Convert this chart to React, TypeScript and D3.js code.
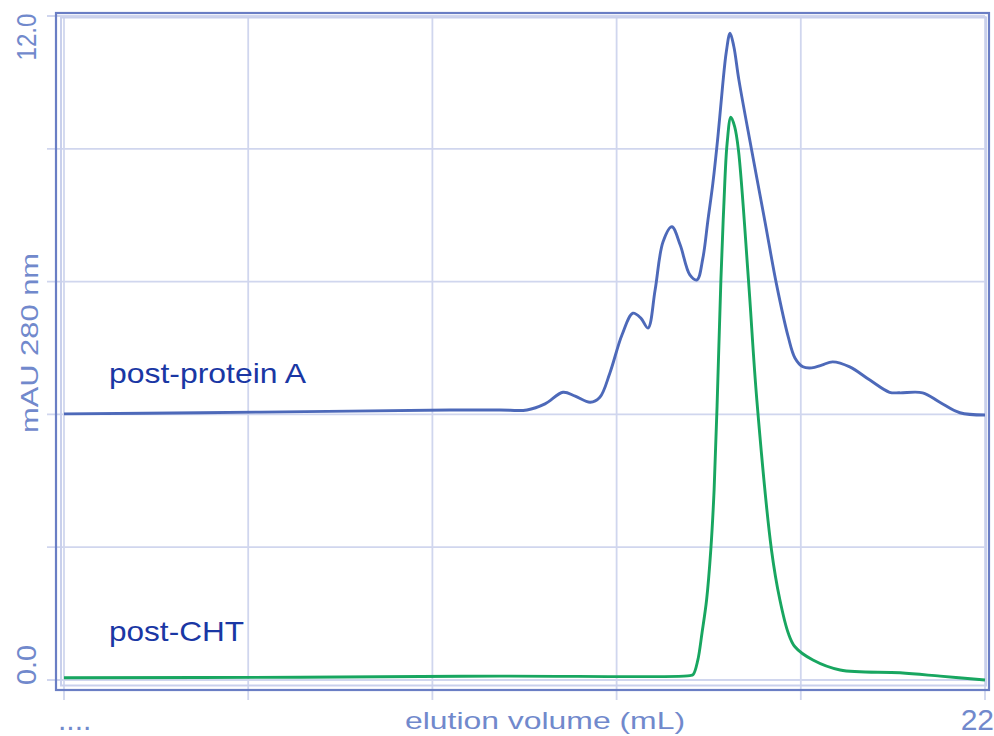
import * as d3 from "d3";

// elution volume (mL) vs absorbance (mAU 280 nm)
const proteinA_x = [
  0, 3.25, 6.83, 9.22, 10.41, 11.06, 11.49, 11.92, 12.21, 12.57, 12.8, 13.04,
  13.33, 13.59, 13.78, 13.95, 14.12, 14.31, 14.52, 14.72, 14.95, 15.12, 15.26,
  15.38, 15.5, 15.62, 15.73, 15.82, 15.91, 16.0, 16.12, 16.42, 16.74, 17.02,
  17.3, 17.46, 17.65, 17.86, 18.1, 18.36, 18.77, 19.25, 19.72, 19.96, 20.51,
  20.92, 21.4, 22,
];
const proteinA_y = [
  4.81, 4.83, 4.86, 4.88, 4.88, 4.88, 4.99, 5.2, 5.13, 5.02, 5.11, 5.55, 6.24,
  6.63, 6.54, 6.36, 7.05, 7.92, 8.19, 7.86, 7.32, 7.23, 7.62, 8.3, 8.98, 9.82,
  10.72, 11.35, 11.69, 11.45, 10.85, 9.6, 8.3, 7.15, 6.2, 5.82, 5.66, 5.64,
  5.69, 5.75, 5.66, 5.42, 5.2, 5.19, 5.19, 5.02, 4.83, 4.79,
];

const cht_x = [
  0, 5.64, 10.41, 14.95, 15.03, 15.14, 15.24, 15.35, 15.45, 15.53, 15.6,
  15.69, 15.76, 15.84, 15.93, 16.02, 16.11, 16.35, 16.55, 16.9, 17.1, 17.3,
  17.46, 17.89, 18.54, 19.97, 20.93, 22,
];
const cht_y = [
  0.04, 0.05, 0.07, 0.08, 0.1, 0.36, 0.85, 1.45, 2.35, 3.45, 4.95, 7.2, 8.55,
  9.7, 10.17, 10.0, 9.58, 7.23, 5.06, 2.35, 1.45, 0.85, 0.6, 0.36, 0.18,
  0.13, 0.07, 0,
];

const xGrid = [0, 4.4, 8.8, 13.2, 17.6, 22];
const yGrid = [0, 2.4, 4.8, 7.2, 9.6, 12];
const yTickLabels = [
  { v: 0, t: "0.0", len: 40 },
  { v: 12, t: "12.0", len: 47 },
];
const xTickLabels = [
  { v: 0, t: "....", anchor: "start", dx: -6 },
  { v: 22, t: "22", anchor: "end", dx: 9 },
];

const W = 994;
const H = 736;

export default function App() {
  const x = d3.scaleLinear().domain([0, 22]).range([64, 985]);
  const y = d3.scaleLinear().domain([0, 12]).range([680, 16]);

  const line = d3
    .line<[number, number]>()
    .x((d) => x(d[0]))
    .y((d) => y(d[1]))
    .curve(d3.curveCatmullRom.alpha(0.5));

  const blue = line(proteinA_x.map((v, i) => [v, proteinA_y[i]]) as [number, number][]);
  const green = line(cht_x.map((v, i) => [v, cht_y[i]]) as [number, number][]);

  const gridColor = "#d0d6ee";
  const frameColor = "#6a7ec4";
  const axisText = "#7189cc";
  const labelColor = "#1a37a4";
  const font = "'Liberation Sans', Arial, sans-serif";

  return (
    <svg
      width={W}
      height={H}
      style={{ position: "absolute", left: 0, top: 0, background: "#fff" }}
      fontFamily={font}
    >
      {/* grid */}
      {xGrid.map((g) => (
        <line key={"gx" + g} x1={x(g)} x2={x(g)} y1={16} y2={700} stroke={gridColor} strokeWidth={1.8} />
      ))}
      {yGrid.map((g) => (
        <line key={"gy" + g} x1={47} x2={985} y1={y(g)} y2={y(g)} stroke={gridColor} strokeWidth={1.8} />
      ))}
      {/* light inner frame */}
      <rect x={61} y={17.5} width={925} height={668} fill="none" stroke="#c9d0ec" strokeWidth={2} />
      {/* outer frame */}
      <rect x={56} y={13} width={933} height={677} fill="none" stroke={frameColor} strokeWidth={2.2} />

      {/* traces */}
      <path d={blue ?? ""} fill="none" stroke="#4d69b9" strokeWidth={2.9} strokeLinejoin="round" />
      <path d={green ?? ""} fill="none" stroke="#18a660" strokeWidth={2.9} strokeLinejoin="round" />

      {/* trace labels */}
      <text x={109} y={383} fontSize={28} fill={labelColor} textLength={197} lengthAdjust="spacingAndGlyphs">
        post-protein A
      </text>
      <text x={109} y={641} fontSize={28} fill={labelColor} textLength={135} lengthAdjust="spacingAndGlyphs">
        post-CHT
      </text>

      {/* y tick labels */}
      {yTickLabels.map((d) => {
        const cy = d.v === 12 ? 37 : 665;
        return (
          <text
            key={d.t}
            transform={`translate(36, ${cy}) rotate(-90)`}
            textAnchor="middle"
            fontSize={28}
            fill={axisText}
            textLength={d.len}
            lengthAdjust="spacingAndGlyphs"
          >
            {d.t}
          </text>
        );
      })}
      <text
        transform="translate(38, 343) rotate(-90)"
        textAnchor="middle"
        fontSize={24}
        fill={axisText}
        textLength={180}
        lengthAdjust="spacingAndGlyphs"
      >
        mAU 280 nm
      </text>

      {/* x tick labels */}
      {xTickLabels.map((d) => (
        <text key={d.t} x={x(d.v) + d.dx} y={730} textAnchor={d.anchor} fontSize={30} fill={axisText}>
          {d.t}
        </text>
      ))}
      <text
        x={545}
        y={729}
        textAnchor="middle"
        fontSize={24}
        fill={axisText}
        textLength={280}
        lengthAdjust="spacingAndGlyphs"
      >
        elution volume (mL)
      </text>
    </svg>
  );
}
